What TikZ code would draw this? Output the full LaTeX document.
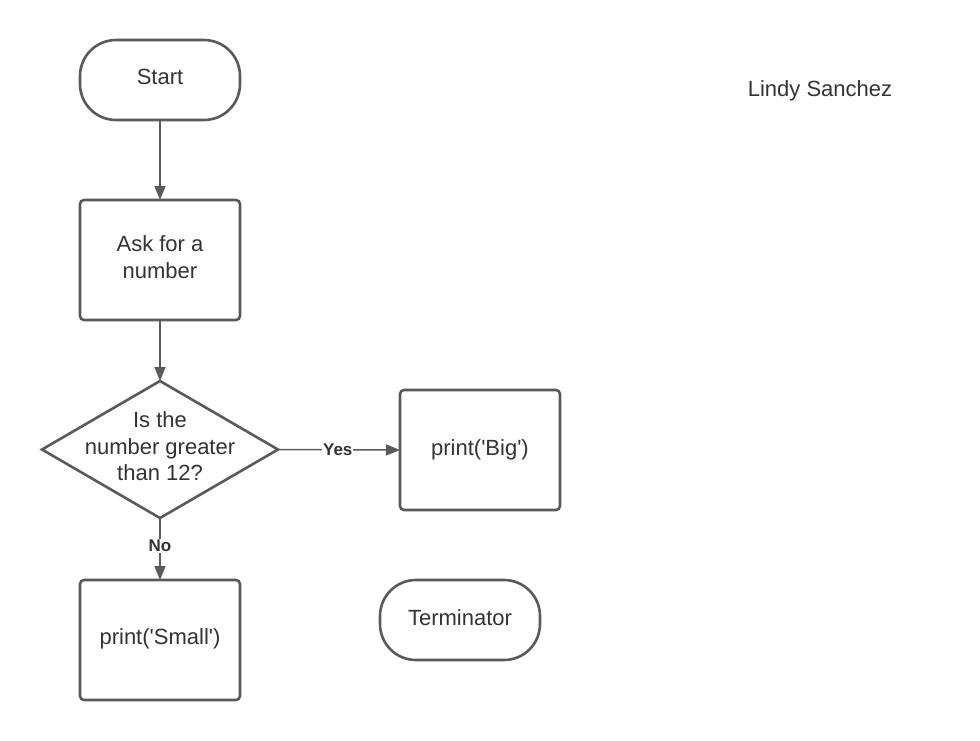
\documentclass[tikz,border=0pt]{standalone}
\usepackage{fontspec}
\setmainfont{Liberation Sans}
\usetikzlibrary{arrows.meta,shapes.geometric}
\definecolor{ln}{HTML}{5A5A5A}
\definecolor{tx}{HTML}{333333}
\tikzset{
  x=1pt,y=-1pt,
  shp/.style={draw=ln,line width=2.6pt,fill=white,inner sep=0pt,outer sep=0pt},
  term/.style={shp,minimum width=160pt,minimum height=80pt,rounded corners=36pt},
  proc/.style={shp,minimum width=160pt,minimum height=120pt,rounded corners=4pt},
  dec/.style={shp,diamond,minimum width=236pt,minimum height=137pt},
  txt/.style={text=tx,align=center,font=\fontsize{22}{26.5}\selectfont,inner sep=0pt,yshift=3pt},
  conn/.style={draw=ln,line width=1.5pt,-{Triangle[length=14pt,width=11pt]}},
  lbl/.style={fill=white,text=tx,font=\bfseries\fontsize{17}{18}\selectfont,inner sep=1pt}
}
\begin{document}
\begin{tikzpicture}
\useasboundingbox (0,0) rectangle (980,740);
\node[term] (start) at (160,80) {};
\node[txt] (startT) at (start.center) {Start};
\node[proc] (ask) at (160,260) {};
\node[txt] (askT) at (ask.center) {Ask for a\\number};
\node[dec] (dec) at (160,449.5) {};
\node[txt] (decT) at (dec.center) {Is the\\number greater\\than 12?};
\node[proc] (big) at (480,450) {};
\node[txt,yshift=-3pt] (bigT) at (big.center) {print(\textquotesingle Big\textquotesingle)};
\node[proc] (small) at (160,640) {};
\node[txt,yshift=-2pt] (smallT) at (small.center) {print(\textquotesingle Small\textquotesingle)};
\node[term] (termi) at (460,620) {};
\node[txt,yshift=-1pt] (termiT) at (termi.center) {Terminator};
\node[txt] (name) at (820,94) {Lindy Sanchez};
\draw[conn] (start) -- (ask);
\draw[conn] (ask) -- (dec);
\draw[conn] (dec.east) -- node[lbl,pos=0.49] {Yes} (big.west);
\draw[conn] (dec.south) -- node[lbl,pos=0.45] {No} (small.north);
\end{tikzpicture}
\end{document}
